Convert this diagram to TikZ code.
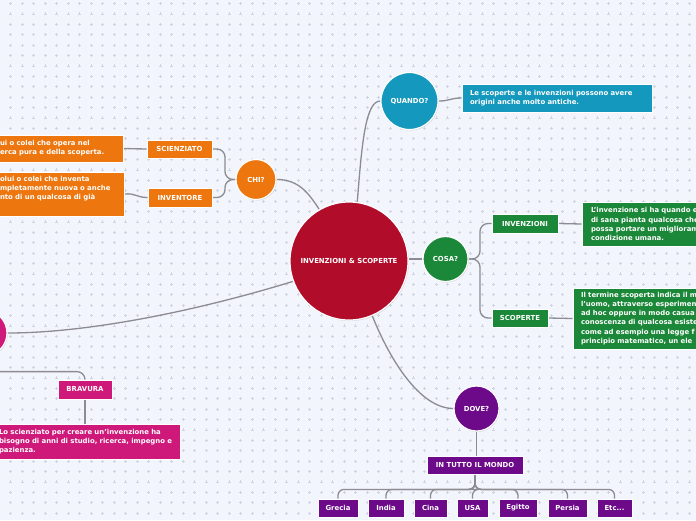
\documentclass[tikz,border=0pt]{standalone}
\usepackage{fontspec}
\setmainfont{DejaVu Sans}
\usetikzlibrary{shadows}
\definecolor{bgc}{RGB}{243,245,252}
\definecolor{gridc}{RGB}{208,212,226}
\definecolor{linec}{RGB}{140,140,146}
\definecolor{crim}{RGB}{177,13,43}
\definecolor{tealc}{RGB}{21,152,189}
\definecolor{orangec}{RGB}{237,118,14}
\definecolor{greenc}{RGB}{27,135,56}
\definecolor{pinkc}{RGB}{206,25,122}
\definecolor{purplec}{RGB}{108,10,137}
\newcommand\lab{\fontsize{6.9}{9.1}\selectfont\bfseries}
\pgfdeclarelayer{back}
\pgfdeclarelayer{edges}
\pgfsetlayers{back,edges,main}
\begin{document}
\begin{tikzpicture}[x=1pt,y=-1pt,
  conn/.style={draw=linec, line width=1.3pt},
  shad/.style={drop shadow={shadow xshift=0.8pt, shadow yshift=-1pt, opacity=0.25}},
  circ/.style={circle, draw=white, line width=1.2pt, text=white, font=\lab, inner sep=0pt, shad},
  lbox/.style={rectangle, draw=white, line width=0.8pt, text=white, font=\lab, inner sep=0pt, shad},
  tbox/.style={lbox, align=left, inner ysep=0pt}]
\useasboundingbox (0,0) rectangle (696,520);
\begin{pgfonlayer}{back}
\fill[bgc] (0,0) rectangle (696,520);
\draw[gridc, line width=0.5pt] \foreach \i in {0,...,60} { \foreach \j in {0,...,50} {
  (10.5+\i*11.5, 3.5+\j*10.4) +(-1.5,0) -- +(1.5,0) +(0,-1.5) -- +(0,1.5) } };
\end{pgfonlayer}
\clip (0,0) rectangle (696,520);

% circles
\node[circ, fill=crim, minimum size=118pt] (central) at (349,261) {INVENZIONI \& SCOPERTE};
\node[circ, fill=tealc, minimum size=57pt] (quando) at (409.5,101) {QUANDO?};
\node[circ, fill=orangec, minimum size=40pt] (chi) at (256,179.5) {CHI?};
\node[circ, fill=greenc, minimum size=45pt] (cosa) at (445.5,259) {COSA?};
\node[circ, fill=purplec, minimum size=45pt] (dove) at (476.5,408.5) {DOVE?};
\node[circ, fill=pinkc, minimum size=46pt] (pink) at (-16,333) {};

% QUANDO
\node[tbox, fill=tealc, inner xsep=8pt, text width=174pt, minimum height=28pt] (qtext) at (557,98)
  {\mbox{Le scoperte e le invenzioni possono avere}\\\mbox{origini anche molto antiche.}};

% CHI
\node[lbox, fill=orangec, minimum width=65pt, minimum height=18pt] (sci) at (179.5,149) {SCIENZIATO};
\node[lbox, fill=orangec, minimum width=64pt, minimum height=19pt] (inv) at (180,197.5) {INVENTORE};
\node[tbox, fill=orangec, inner xsep=8pt, text width=115pt, minimum height=27pt] (scitext) at (57.5,148.5)
  {\mbox{ui o colei che opera nel}\\\mbox{erca pura e della scoperta.}};
\node[tbox, fill=orangec, inner xsep=8pt, text width=116pt, minimum height=44pt] (invtext) at (58,194)
  {\mbox{olui o colei che inventa}\\\mbox{mpletamente nuova o anche}\\\mbox{nto di un qualcosa di già}\\\strut};

% COSA
\node[lbox, fill=greenc, minimum width=66pt, minimum height=19pt] (invz) at (525,223.5) {INVENZIONI};
\node[lbox, fill=greenc, minimum width=56pt, minimum height=18pt] (scop) at (520,318) {SCOPERTE};
\node[tbox, fill=greenc, inner xsep=9pt, text width=130pt, minimum height=44pt] (invztext) at (656,224)
  {\mbox{L'invenzione si ha quando e}\\\mbox{di sana pianta qualcosa che}\\\mbox{possa portare un miglioram}\\\mbox{condizione umana.}};
\node[tbox, fill=greenc, inner xsep=8pt, text width=141pt, minimum height=61pt] (scoptext) at (651.5,318.5)
  {\mbox{Il termine scoperta indica il m}\\\mbox{l'uomo, attraverso esperimen}\\\mbox{ad hoc oppure in modo casua}\\\mbox{conoscenza di qualcosa esiste}\\\mbox{come ad esempio una legge f}\\\mbox{principio matematico, un ele}};

% BRAVURA
\node[lbox, fill=pinkc, minimum width=54pt, minimum height=19pt] (brav) at (85,389.5) {BRAVURA};
\node[tbox, fill=pinkc, inner xsep=9pt, text width=172pt, minimum height=35pt] (bravtext) at (85,441.5)
  {\mbox{Lo scienziato per creare un'invenzione ha}\\\mbox{bisogno di anni di studio, ricerca, impegno e}\\\mbox{pazienza.}};

% DOVE
\node[lbox, fill=purplec, minimum width=96pt, minimum height=18pt] (world) at (475,465) {IN TUTTO IL MONDO};
\node[lbox, fill=purplec, minimum width=40pt, minimum height=18pt] (gr) at (338,508) {Grecia};
\node[lbox, fill=purplec, minimum width=36pt, minimum height=18pt] (in) at (386,508) {India};
\node[lbox, fill=purplec, minimum width=33pt, minimum height=18pt] (ci) at (430.5,508) {Cina};
\node[lbox, fill=purplec, minimum width=31pt, minimum height=18pt] (us) at (472.5,508) {USA};
\node[lbox, fill=purplec, minimum width=38pt, minimum height=18pt] (eg) at (518,508) {Egitto};
\node[lbox, fill=purplec, minimum width=39pt, minimum height=18pt] (pe) at (567.5,508) {Persia};
\node[lbox, fill=purplec, minimum width=35pt, minimum height=18pt] (et) at (614.5,508) {Etc...};

\begin{pgfonlayer}{edges}
\draw[conn] (central.82) .. controls (362,140) and (366,101) .. (quando.west);
\draw[conn] (quando.east) .. controls (450,101) and (450,98) .. (qtext.west);
\draw[conn] (central.120) .. controls (308,192) and (298,179.5) .. (chi.east);
\draw[conn, rounded corners=8pt] (chi.west) -- (225,179.5) -- (225,149) -- (sci.east);
\draw[conn, rounded corners=8pt] (chi.west) -- (225,179.5) -- (225,197.5) -- (inv.east);
\draw[conn] (sci.west) -- (scitext.east);
\draw[conn] (inv.west) .. controls (136,197.5) and (136,193) .. (invtext.east);
\draw[conn] (cosa.west) -- (central.east |- cosa.west);
\draw[conn, rounded corners=8pt] (cosa.east) -- (480,259) -- (480,223.5) -- (invz.west);
\draw[conn, rounded corners=8pt] (cosa.east) -- (480,259) -- (480,318) -- (scop.west);
\draw[conn] (invz.east) -- (invztext.west);
\draw[conn] (scop.east) -- (scoptext.west);
\draw[conn] (central.-67) .. controls (390,360) and (420,408.5) .. (dove.west);
\draw[conn] (dove.south) -- (dove.south |- world.north);
\foreach \c in {gr,in,ci,us,eg,pe,et}
  \draw[conn, rounded corners=6pt] (world.south) -- ++(0,15) -| (\c.north);
\draw[conn] (central.200) .. controls (200,310) and (90,333) .. (pink.east);
\draw[conn, rounded corners=8pt] (pink.south) -- ++(0,15) -| (brav.north);
\draw[conn] (brav.south) -- (bravtext.north);
\end{pgfonlayer}
\end{tikzpicture}
\end{document}
